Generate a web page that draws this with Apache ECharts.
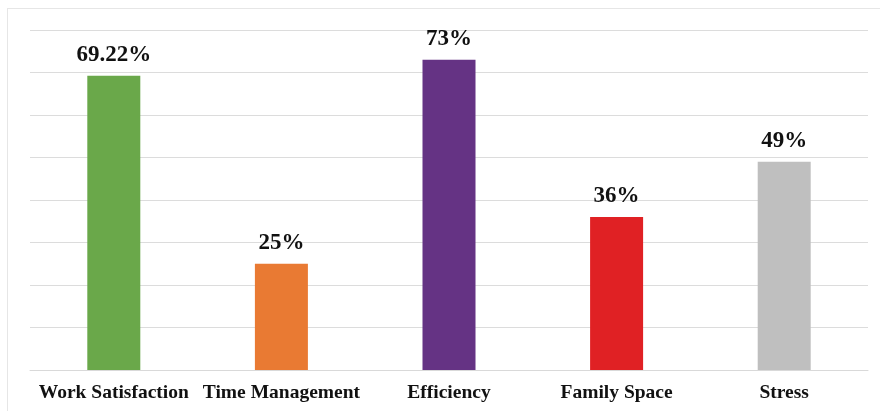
<!DOCTYPE html>
<html>
<head>
<meta charset="utf-8">
<script src="https://cdn.jsdelivr.net/npm/echarts@6/dist/echarts.min.js"></script>
<style>
  html, body { margin: 0; padding: 0; background: #fff; }
  #frame { position: absolute; left: 7px; top: 8px; width: 873px; height: 403px; border-left: 1px solid #e6e6e6; border-top: 1px solid #e6e6e6; box-sizing: border-box; }
  #chart { width: 881px; height: 412px; position: absolute; left: 0; top: 0; }
</style>
</head>
<body>
<div id="frame"></div>
<div id="chart"></div>
<script>
// Survey results: share of respondents per aspect (%)
const categories = ['Work Satisfaction', 'Time Management', 'Efficiency', 'Family Space', 'Stress'];
const values = [69.22, 25, 73, 36, 49];
const valueLabels = ['69.22%', '25%', '73%', '36%', '49%'];
const barColors = ['#6aa84a', '#e97a33', '#653384', '#e02124', '#bfbfbf'];

const chart = echarts.init(document.getElementById('chart'), null, { renderer: 'canvas' });
chart.setOption({
  animation: false,
  grid: { left: 30, right: 13, top: 30, bottom: 42 },
  xAxis: {
    type: 'category',
    data: categories,
    axisLine: { lineStyle: { color: '#d9d9d9', width: 1 } },
    axisTick: { show: false },
    axisLabel: {
      interval: 0,
      margin: 13,
      color: '#111',
      fontFamily: 'Liberation Serif',
      fontWeight: 'bold',
      fontSize: 19.5
    }
  },
  yAxis: {
    type: 'value',
    min: 0,
    max: 80,
    interval: 10,
    axisLine: { show: false },
    axisTick: { show: false },
    axisLabel: { show: false },
    splitLine: { lineStyle: { color: '#dcdcdc', width: 1 } }
  },
  series: [{
    type: 'bar',
    barWidth: 53,
    data: values.map((v, i) => ({ value: v, itemStyle: { color: barColors[i] } })),
    label: {
      show: true,
      position: 'top',
      distance: 9,
      color: '#111',
      fontFamily: 'Liberation Serif',
      fontWeight: 'bold',
      fontSize: 23,
      formatter: p => valueLabels[p.dataIndex]
    }
  }]
});
</script>
</body>
</html>
